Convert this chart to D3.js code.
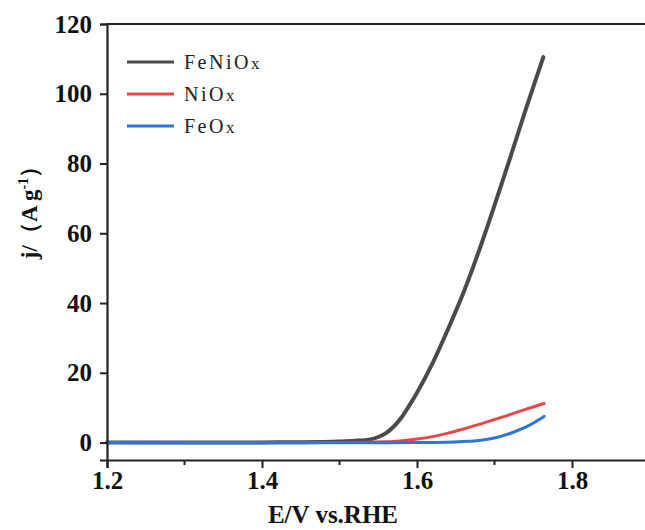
<!DOCTYPE html>
<html>
<head>
<meta charset="utf-8">
<script src="https://cdn.jsdelivr.net/npm/d3@7"></script>
<style>
  body { margin: 0; background: #fff; }
  svg { display: block; }
</style>
</head>
<body>
<svg id="chart" width="645" height="530"></svg>
<script>
// potentials (V vs RHE) and current densities (A g-1)
const feniE = [1.20, 1.30, 1.40, 1.45, 1.50, 1.52, 1.54, 1.55, 1.56, 1.57, 1.58, 1.59, 1.60, 1.62, 1.64, 1.66, 1.68, 1.70, 1.72, 1.74, 1.763];
const feniJ = [0.0, 0.0, 0.05, 0.1, 0.3, 0.5, 0.9, 1.6, 2.7, 4.6, 7.2, 10.6, 14.3, 22.7, 32.5, 43.0, 55.0, 68.0, 81.5, 95.3, 110.5];
const niE = [1.20, 1.40, 1.50, 1.56, 1.58, 1.60, 1.62, 1.64, 1.66, 1.68, 1.70, 1.72, 1.74, 1.764];
const niJ = [0.0, 0.0, 0.0, 0.2, 0.5, 1.0, 1.7, 2.7, 3.9, 5.2, 6.6, 8.0, 9.5, 11.2];
const feE = [1.20, 1.40, 1.50, 1.60, 1.64, 1.66, 1.68, 1.70, 1.72, 1.74, 1.764];
const feJ = [0.0, -0.05, -0.05, 0.0, 0.1, 0.3, 0.6, 1.3, 2.6, 4.4, 7.5];

const seriesNames = ["FeNiOx", "NiOx", "FeOx"];
const seriesColors = ["#4a4a4a", "#e8474a", "#2f74d8"];
const xTicks = [1.2, 1.4, 1.6, 1.8];
const xMinorTicks = [1.3, 1.5, 1.7, 1.9];
const yTicks = [0, 20, 40, 60, 80, 100, 120];

const series = [
  { name: seriesNames[0], color: seriesColors[0], width: 4, pts: feniE.map((e, i) => [e, feniJ[i]]) },
  { name: seriesNames[1], color: seriesColors[1], width: 3, pts: niE.map((e, i) => [e, niJ[i]]) },
  { name: seriesNames[2], color: seriesColors[2], width: 3, pts: feE.map((e, i) => [e, feJ[i]]) }
];

const svg = d3.select("#chart");
const mLeft = 107, mTop = 24, mRight = 649.5, mBottom = 460;

const x = d3.scaleLinear().domain([1.2, 1.9]).range([mLeft, mRight]);
const y = d3.scaleLinear().domain([-5, 120]).range([mBottom, mTop]);

const font = "'Liberation Serif', 'Times New Roman', serif";

// lines
const line = d3.line()
  .x(d => x(d[0]))
  .y(d => y(d[1]))
  .curve(d3.curveMonotoneX);

series.forEach(s => {
  svg.append("path")
    .datum(s.pts)
    .attr("d", line)
    .attr("fill", "none")
    .attr("stroke", s.color)
    .attr("stroke-width", s.width)
    .attr("stroke-linecap", "round");
});

// frame (top edge; right edge lies outside the window)
svg.append("line")
  .attr("x1", mLeft).attr("x2", 645)
  .attr("y1", mTop).attr("y2", mTop)
  .attr("stroke", "#222").attr("stroke-width", 2);

// y axis
const yAxis = svg.append("g")
  .attr("transform", `translate(${mLeft},0)`)
  .call(d3.axisLeft(y).tickValues(yTicks).tickSize(7).tickPadding(8).tickFormat(d3.format("d")));
yAxis.select(".domain").attr("stroke", "#222").attr("stroke-width", 2.2);
yAxis.selectAll(".tick line").attr("stroke", "#222").attr("stroke-width", 2);
yAxis.selectAll(".tick text")
  .style("font-family", font)
  .style("font-weight", "bold")
  .style("font-size", "25px")
  .attr("fill", "#111");

// x axis
const xAxis = svg.append("g")
  .attr("transform", `translate(0,${mBottom})`)
  .call(d3.axisBottom(x).tickValues(xTicks).tickSize(8).tickPadding(3).tickFormat(d3.format(".1f")));
xAxis.select(".domain").attr("stroke", "#222").attr("stroke-width", 2.2);
xAxis.selectAll(".tick line").attr("stroke", "#222").attr("stroke-width", 2);
xAxis.selectAll(".tick text")
  .style("font-family", font)
  .style("font-weight", "bold")
  .style("font-size", "25px")
  .attr("fill", "#111");

svg.append("g")
  .selectAll("line")
  .data(xMinorTicks)
  .join("line")
  .attr("x1", d => x(d)).attr("x2", d => x(d))
  .attr("y1", mBottom).attr("y2", mBottom + 5)
  .attr("stroke", "#222").attr("stroke-width", 2);

// axis titles
svg.append("text")
  .attr("x", 333).attr("y", 523)
  .attr("text-anchor", "middle")
  .style("font-family", font)
  .style("font-weight", "bold")
  .style("font-size", "25px")
  .attr("fill", "#111")
  .text("E/V vs.RHE");

const yTitle = svg.append("text")
  .attr("transform", "translate(37,207) rotate(-90)")
  .attr("text-anchor", "middle")
  .style("font-family", font)
  .style("font-weight", "bold")
  .style("font-size", "23px")
  .attr("fill", "#111");
yTitle.append("tspan").text("j/（A g");
yTitle.append("tspan").attr("dy", -9).style("font-size", "14px").text("-1");
yTitle.append("tspan").attr("dy", 9).text("）");

// legend
const legend = svg.append("g");
series.forEach((s, i) => {
  const ly = 62 + i * 32;
  legend.append("line")
    .attr("x1", 127).attr("x2", 174)
    .attr("y1", ly).attr("y2", ly)
    .attr("stroke", s.color).attr("stroke-width", 3);
  const t = legend.append("text")
    .attr("x", 184).attr("y", ly + 7)
    .style("font-family", font)
    .style("font-size", "20px")
    .style("letter-spacing", "2.5px")
    .attr("fill", "#222");
  t.append("tspan").text(s.name.slice(0, -1));
  t.append("tspan").style("font-size", "17px").text("x");
});
</script>
</body>
</html>
